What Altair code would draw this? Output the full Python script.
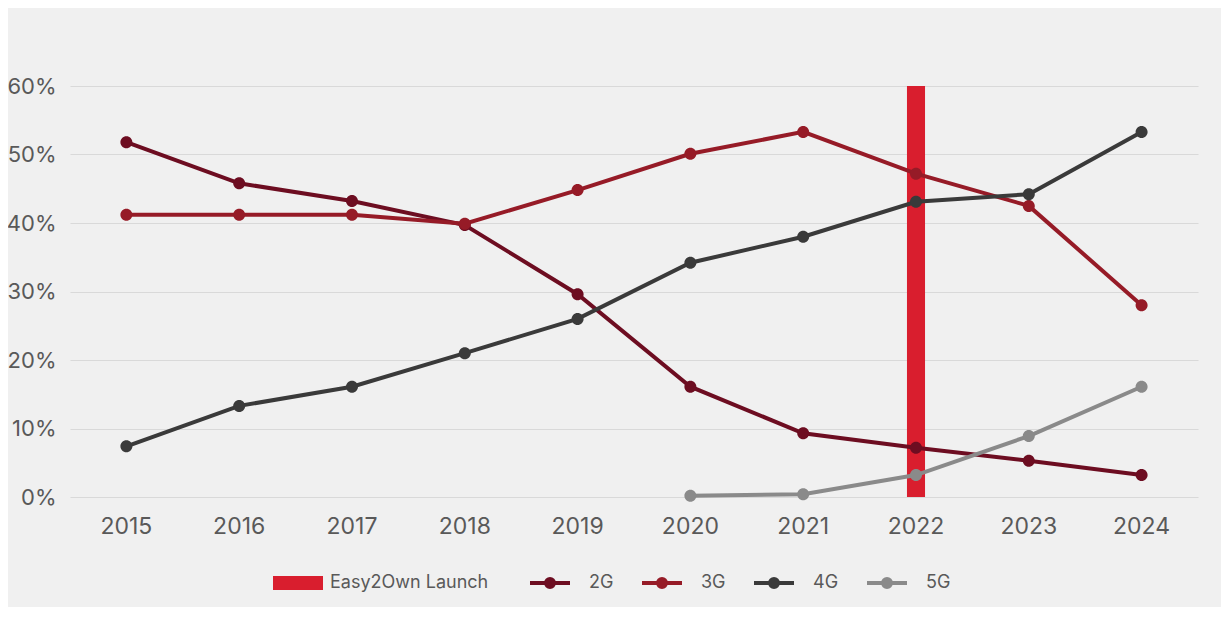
import altair as alt
import pandas as pd

years = ["2015", "2016", "2017", "2018", "2019", "2020", "2021", "2022", "2023", "2024"]
series_names = ["2G", "3G", "4G", "5G"]
g2 = [51.8, 45.8, 43.2, 39.7, 29.6, 16.1, 9.3, 7.2, 5.3, 3.2]
g3 = [41.2, 41.2, 41.2, 39.9, 44.8, 50.1, 53.3, 47.2, 42.5, 28.0]
g4 = [7.4, 13.3, 16.1, 21.0, 26.0, 34.2, 38.0, 43.1, 44.2, 53.3]
g5 = [None, None, None, None, None, 0.2, 0.4, 3.2, 8.9, 16.1]
launch_label = "Easy2Own Launch"
launch_year = "2022"
launch_top = 60
y_ticks = [0, 10, 20, 30, 40, 50, 60]

bar_color = "#d91e2e"
series_colors = ["#6d0d21", "#961b27", "#3a3a3a", "#8a8a8a"]
rect_path = "M-0.9,-0.35H1.6V0.35H-0.9Z"
lc_path = "M-1,0H1M0.2,0A0.2,0.2,0,1,1,-0.2,0A0.2,0.2,0,1,1,0.2,0"

rows = []
for name, vals in zip(series_names, [g2, g3, g4, g5]):
    for yr, v in zip(years, vals):
        if v is not None:
            rows.append({"year": yr, "series": name, "value": v})
df = pd.DataFrame(rows)
bar_df = pd.DataFrame({"year": [launch_year], "series": [launch_label], "value": [launch_top]})

FONT = "Inter"
TXT = "#595959"

leg_bar = alt.Legend(
    title=None, orient="none", legendX=201, legendY=477, direction="horizontal",
    symbolType=rect_path, symbolSize=1600, symbolOpacity=1, symbolStrokeWidth=0,
    labelFont=FONT, labelFontSize=18, labelColor=TXT, labelOffset=19,
)
leg_lines = alt.Legend(
    title=None, orient="none", legendX=458, legendY=475, direction="horizontal",
    symbolSize=1600, symbolStrokeWidth=4, symbolOpacity=1,
    labelFont=FONT, labelFontSize=18, labelColor=TXT,
    columnPadding=20, labelOffset=17,
)

series_scale = alt.Scale(domain=series_names, range=series_colors)

x_enc = alt.X(
    "year:O", title=None,
    scale=alt.Scale(domain=years, paddingInner=0.84, paddingOuter=0.42),
    axis=alt.Axis(labelAngle=0, domain=False, ticks=False, grid=False,
                  labelFont=FONT, labelFontSize=23, labelColor=TXT, labelPadding=18),
)
y_enc = alt.Y(
    "value:Q", title=None,
    scale=alt.Scale(domain=[0, 60]),
    axis=alt.Axis(values=y_ticks, labelExpr="datum.value + '%'", domain=False, ticks=False,
                  gridColor="#d9d9d9", gridWidth=1,
                  labelFont=FONT, labelFontSize=22, labelColor=TXT, labelPadding=14),
)

bar = alt.Chart(bar_df).mark_bar(opacity=1).encode(
    x=x_enc, y=y_enc,
    color=alt.Color("series:N", scale=alt.Scale(domain=[launch_label], range=[bar_color]),
                    legend=leg_bar),
)

lines = alt.Chart(df).mark_line(strokeWidth=4).encode(
    x=x_enc, y=y_enc,
    stroke=alt.Stroke("series:N", scale=series_scale, legend=leg_lines),
)

points = alt.Chart(df).mark_point(filled=True, size=3600, opacity=1, strokeWidth=0).encode(
    x=x_enc, y=y_enc,
    fill=alt.Fill("series:N", scale=series_scale, legend=leg_lines),
    shape=alt.Shape("series:N", scale=alt.Scale(domain=series_names, range=[lc_path] * 4),
                    legend=leg_lines),
)

chart = alt.layer(bar, lines, points).properties(
    width=1128, height=411,
    autosize=alt.AutoSizeParams(type="none"),
    padding={"left": 62, "top": 78, "right": 23, "bottom": 110},
    background="#f0f0f0",
).configure_view(stroke=None)

chart.save("out.html", embed_options={"renderer": "svg", "actions": False})
